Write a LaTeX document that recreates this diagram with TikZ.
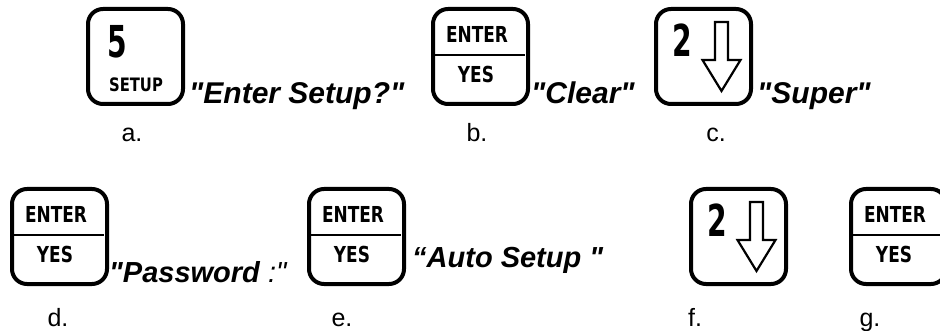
\documentclass[tikz,border=0pt]{standalone}
\usepackage{fontspec}
\setmainfont{Liberation Sans}[Ligatures=TeXOff]
\newfontfamily\tastfont{DejaVu Sans}[Ligatures=TeXOff]
\usetikzlibrary{positioning,calc}

\newcommand{\smal}[2][0.77]{\scalebox{#1}[1]{#2}}

\begin{document}
\begin{tikzpicture}[
  x=1pt, y=-1pt,
  tast/.style={draw, line width=4pt, rounded corners=15pt, minimum size=95pt, inner sep=0pt},
  siffer/.style={font=\tastfont\fontsize{44}{44}\selectfont\bfseries, inner sep=0pt},
  tastetekst/.style={font=\tastfont\fontsize{22}{22}\selectfont\bfseries, inner sep=0pt},
  strek/.style={line width=2pt},
  pilform/.style={line width=2.2pt, line join=miter},
  melding/.style={font=\fontsize{30}{30}\selectfont\bfseries\itshape, anchor=base west, inner sep=0pt},
  melding2/.style={melding, font=\fontsize{29}{30}\selectfont\bfseries\itshape},
  merke/.style={font=\fontsize{25}{25}\selectfont, anchor=base, inner sep=0pt}
]
\useasboundingbox (0,0) rectangle (940,331);

% first row
\node[tast] (a) at (135.5,56.5) {};
\node[siffer] (a5) at ($(a.north west)+(31,35)$) {\smal[0.64]{5}};
\node[tastetekst] (asetup) at ($(a.north west)+(50,78)$) {\fontsize{18.5}{18.5}\selectfont\smal[0.8]{SETUP}};
\node[melding] (ma) at (189,104) {"Enter Setup?"};
\node[merke] (la) at (132,142) {a.};

\node[tast] (b) at (480.5,56.5) {};
\node[tastetekst] (benter) at ($(b.north west)+(46,27)$) {\smal{ENTER}};
\node[tastetekst] (byes) at ($(b.north west)+(45,67)$) {\smal{YES}};
\draw[strek] ($(b.north west)+(3,48)$) -- ($(b.north east)+(-5,48)$);
\node[melding] (mb) at (531,104) {"Clear"};
\node[merke] (lb) at (477,142) {b.};

\node[tast] (c) at (703.5,56.5) {};
\node[siffer] (c2) at ($(c.north west)+(28,33)$) {\smal[0.64]{2}};
\draw[pilform] ($(c.north west)+(61,15)$) -- ++(13,0) -- ++(0,38) -- ++(12.5,0)
  -- ++(-19,31) -- ++(-19,-31) -- ++(12.5,0) -- cycle;
\node[melding] (mc) at (757,104) {"Super"};
\node[merke] (lc) at (716,142) {c.};

% second row
\node[tast] (d) at (59.5,236.5) {};
\node[tastetekst] (denter) at ($(d.north west)+(46,27)$) {\smal{ENTER}};
\node[tastetekst] (dyes) at ($(d.north west)+(45,67)$) {\smal{YES}};
\draw[strek] ($(d.north west)+(3,48)$) -- ($(d.north east)+(-5,48)$);
\node[melding2] (md) at (109,282) {"Password {\mdseries :"}};
\node[merke] (ld) at (58,326) {d.};

\node[tast] (e) at (356.5,236.5) {};
\node[tastetekst] (eenter) at ($(e.north west)+(46,27)$) {\smal{ENTER}};
\node[tastetekst] (eyes) at ($(e.north west)+(45,67)$) {\smal{YES}};
\draw[strek] ($(e.north west)+(3,48)$) -- ($(e.north east)+(-5,48)$);
\node[melding2] (me) at (412,268) {“Auto Setup "};
\node[merke] (le) at (342,326) {e.};

\node[tast] (f) at (738.5,236.5) {};
\node[siffer] (f2) at ($(f.north west)+(28,33)$) {\smal[0.64]{2}};
\draw[pilform] ($(f.north west)+(61,15)$) -- ++(13,0) -- ++(0,38) -- ++(12.5,0)
  -- ++(-19,31) -- ++(-19,-31) -- ++(12.5,0) -- cycle;
\node[merke] (lf) at (695,326) {f.};

\node[tast] (g) at (898.5,236.5) {};
\node[tastetekst] (genter) at ($(g.north west)+(46,27)$) {\smal{ENTER}};
\node[tastetekst] (gyes) at ($(g.north west)+(45,67)$) {\smal{YES}};
\draw[strek] ($(g.north west)+(3,48)$) -- ($(g.north east)+(-5,48)$);
\node[merke] (lg) at (870,326) {g.};
\end{tikzpicture}
\end{document}
